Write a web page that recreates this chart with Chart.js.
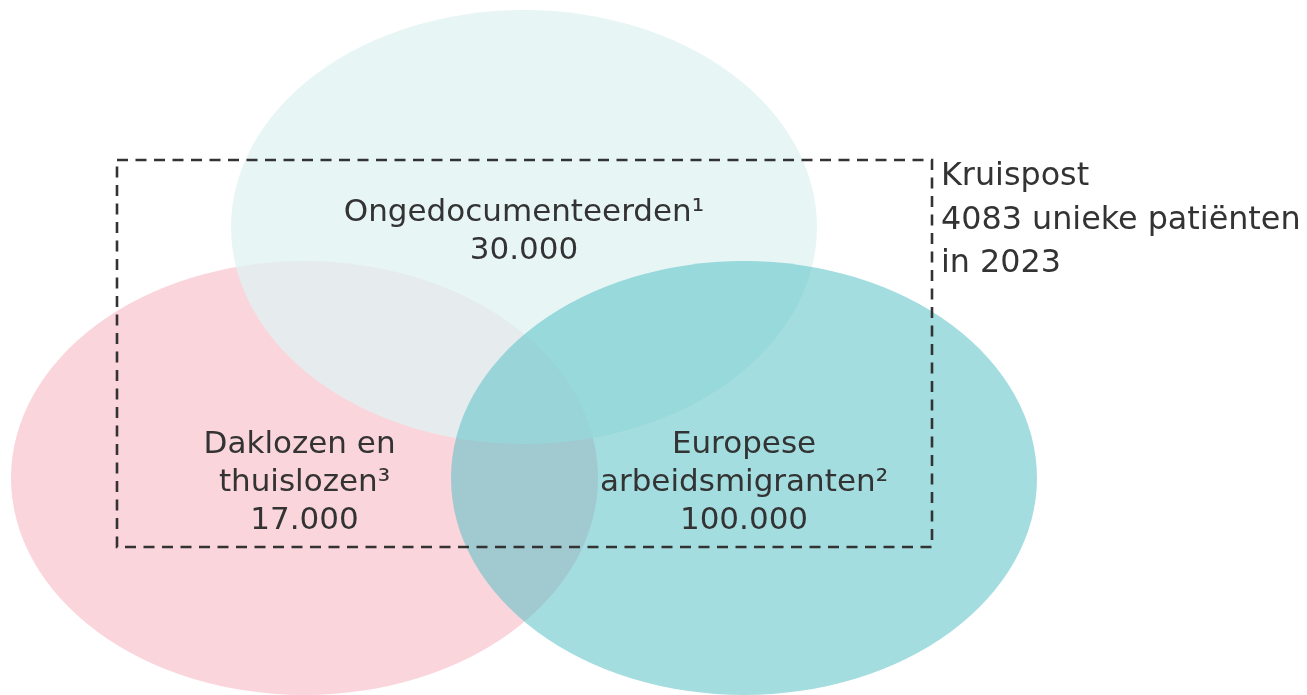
<!DOCTYPE html>
<html>
<head>
<meta charset="utf-8">
<script src="https://cdn.jsdelivr.net/npm/chart.js@4/dist/chart.umd.min.js"></script>
<style>
  html, body { margin: 0; padding: 0; background: #fff; }
  canvas { display: block; }
</style>
</head>
<body>
<canvas id="vennChart" width="1307" height="695"></canvas>
<script>
// groups, drawn in this order (pink first, light on top of it, teal last)
const groupLines = [['Daklozen en ', 'thuislozen³'], ['Ongedocumenteerden¹'], ['Europese', 'arbeidsmigranten²']];
const groupSizes = [17000, 30000, 100000];
const centerX = [304.5, 524, 744];
const centerY = [478, 227, 478];
const radiusX = [293.5, 293, 293];
const radiusY = [217, 217, 217];

// kruispost box
const boxX = [117, 932];
const boxY = [160, 547];
const boxName = 'Kruispost';
const patients = 4083;
const year = 2023;

const FILLS = ['rgb(250, 213, 220)', 'rgba(225, 242, 242, 0.79)', 'rgba(85, 192, 198, 0.54)'];
const TEXT_COLOR = '#333333';
const FONT = '31px "DejaVu Sans"';
const NOTE_FONT = '31.8px "DejaVu Sans"';

const datasets = groupLines.map((lines, i) => ({
  label: lines.join(' '),
  data: [{ x: centerX[i], y: centerY[i], rx: radiusX[i], ry: radiusY[i] }],
  pointRadius: 0,
  backgroundColor: FILLS[i]
}));

const vennPlugin = {
  id: 'venn',
  beforeDatasetsDraw(chart) {
    const ctx = chart.ctx, xs = chart.scales.x, ys = chart.scales.y;
    chart.data.datasets.forEach((ds, i) => {
      const p = ds.data[0];
      const px = xs.getPixelForValue(p.x), py = ys.getPixelForValue(p.y);
      const rx = Math.abs(xs.getPixelForValue(p.x + p.rx) - px);
      const ry = Math.abs(ys.getPixelForValue(p.y + p.ry) - py);
      ctx.save();
      ctx.beginPath();
      ctx.ellipse(px, py, rx, ry, 0, 0, Math.PI * 2);
      ctx.fillStyle = ds.backgroundColor;
      ctx.fill();
      ctx.restore();
    });
  },
  afterDatasetsDraw(chart) {
    const ctx = chart.ctx, xs = chart.scales.x, ys = chart.scales.y;
    ctx.save();
    // dashed box
    const x0 = xs.getPixelForValue(boxX[0]), x1 = xs.getPixelForValue(boxX[1]);
    const y0 = ys.getPixelForValue(boxY[0]), y1 = ys.getPixelForValue(boxY[1]);
    ctx.setLineDash([11, 7.5]);
    ctx.lineWidth = 2.6;
    ctx.strokeStyle = TEXT_COLOR;
    ctx.strokeRect(x0, y0, x1 - x0, y1 - y0);
    ctx.setLineDash([]);

    ctx.font = FONT;
    ctx.fillStyle = TEXT_COLOR;
    ctx.textBaseline = 'alphabetic';

    // group labels
    ctx.textAlign = 'center';
    chart.data.datasets.forEach((ds, i) => {
      const p = ds.data[0];
      const lines = groupLines[i].concat([groupSizes[i].toLocaleString('nl-NL')]);
      const px = xs.getPixelForValue(p.x), py = ys.getPixelForValue(p.y);
      const lh = 38;
      lines.forEach((t, k) => {
        ctx.fillText(t, px, py + 13 + (k - (lines.length - 1) / 2) * lh);
      });
    });

    // box label
    ctx.font = NOTE_FONT;
    ctx.textAlign = 'left';
    const note = [boxName, patients + ' unieke patiënten', 'in ' + year];
    note.forEach((t, k) => {
      ctx.fillText(t, x1 + 9, y0 + 25 + k * 43.5);
    });
    ctx.restore();
  }
};

const chart = new Chart(document.getElementById('vennChart').getContext('2d'), {
  type: 'scatter',
  data: { datasets: datasets },
  options: {
    responsive: false,
    animation: false,
    layout: { padding: 0 },
    plugins: { legend: { display: false }, tooltip: { enabled: false } },
    scales: {
      x: { display: false, min: 0, max: 1307 },
      y: { display: false, min: 0, max: 695, reverse: true }
    }
  },
  plugins: [vennPlugin]
});
</script>
</body>
</html>
